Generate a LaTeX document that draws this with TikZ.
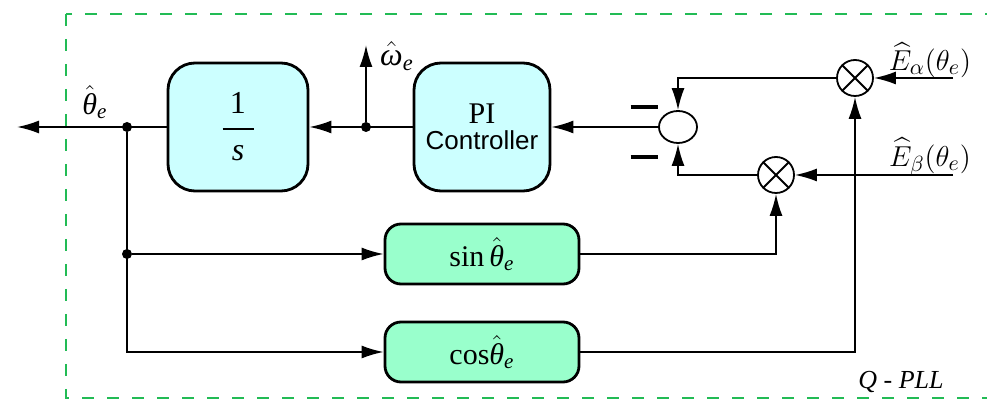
\documentclass[tikz,border=0pt]{standalone}
\usepackage{amsmath}
\usepackage{fontspec}
\setmainfont{Liberation Serif}
\setsansfont{Liberation Sans}
\usetikzlibrary{arrows.meta,shapes.geometric}

\definecolor{cyanbox}{RGB}{204,255,255}
\definecolor{mintbox}{RGB}{153,255,204}
\definecolor{framegreen}{RGB}{34,187,85}

\newcommand{\thhat}{\ensuremath{\hat{\textit{θ}}_{\textit{e}}}}
\newcommand{\omhat}{\ensuremath{\hat{\textit{ω}}_{\textit{e}}}}

\tikzset{
  block/.style={draw, line width=1.4pt, rounded corners=13.5pt, fill=cyanbox,
    align=center, minimum width=70pt, minimum height=64pt},
  trig/.style={draw, line width=1.4pt, rounded corners=8pt, fill=mintbox,
    minimum width=97pt, minimum height=30pt, font=\fontsize{15}{18}\selectfont},
  mult/.style={draw, circle, line width=0.9pt, minimum size=18pt, inner sep=0pt},
  dot/.style={circle, fill, inner sep=0pt, minimum size=5pt},
  sig/.style={line width=0.9pt, ->}
}

\begin{document}
\begin{tikzpicture}[x=0.5pt, y=-0.5pt, >={Latex[length=11pt,width=6.5pt]}]
\useasboundingbox (0,0) rectangle (987,400);

% frame
\draw[framegreen, line width=1.2pt, dash pattern=on 6pt off 6.5pt] (66,14) rectangle (1010,398);

% blocks
\node[block, font=\fontsize{16}{18}\selectfont] (integ) at (238,127)
  {$\genfrac{}{}{1pt}{0}{\makebox[15.5pt]{1}}{\textit{s}}$};
\node[block, minimum width=68pt] (pic) at (482,127)
  {{\fontsize{15}{15}\selectfont PI}\\[1pt]{\sffamily\fontsize{13}{15}\selectfont Controller}};
\node[trig] (sinb) at (482,254) {sin\,\thhat};
\node[trig] (cosb) at (482,352) {cos\thhat};

\node[draw, ellipse, line width=0.9pt, minimum width=19pt, minimum height=16pt, inner sep=0pt] (sum) at (678,127) {};
\node[mult] (mulA) at (855,78) {};
\node[mult] (mulB) at (776,175) {};
\foreach \m in {mulA,mulB}
  \draw[line width=0.9pt] (\m.45) -- (\m.225) (\m.135) -- (\m.315);

\node[inner sep=0pt] (mina) at (644,107) {\rule{13.5pt}{1.6pt}};
\node[inner sep=0pt] (minb) at (644,157) {\rule{13.5pt}{1.6pt}};

% branch points
\node[dot] (jout) at (127,127) {};
\node[dot] (jsin) at (127,254) {};
\node[dot] (jom) at (366,127) {};
\coordinate (thout) at (17,127);
\coordinate (omout) at (366,45);
\coordinate (ealin) at (953,78);
\coordinate (ebein) at (953,175);

% signals
\draw[sig] (ealin) -- (mulA.east);
\draw[sig] (ebein) -- (mulB.east);
\draw[sig] (mulA.west) -| (sum.north);
\draw[sig] (mulB.west) -| (sum.south);
\draw[sig] (sum.west) -- (pic.east);
\draw[sig] (pic.west) -- (integ.east);
\draw[sig] (integ.west) -- (thout);
\draw[sig] (jom) -- (omout);
\draw[sig] (jout) |- (cosb.west);
\draw[sig] (jsin) -- (sinb.west);
\draw[sig] (sinb.east) -| (mulB.south);
\draw[sig] (cosb.east) -| (mulA.south);

% labels
\node[font=\fontsize{15}{17}\selectfont] (thlab) at (95,102) {\thhat};
\node[font=\fontsize{16}{18}\selectfont] (omlab) at (397,56) {\omhat};
\node[font=\fontsize{15}{17}\selectfont] (ealab) at (930,60) {$\widehat{E}_{\alpha}(\theta_e)$};
\node[font=\fontsize{15}{17}\selectfont] (ebelab) at (930,157) {$\widehat{E}_{\beta}(\theta_e)$};
\node[font=\fontsize{13}{15}\selectfont] (qpll) at (901,382) {\textit{Q - PLL}};
\end{tikzpicture}
\end{document}
